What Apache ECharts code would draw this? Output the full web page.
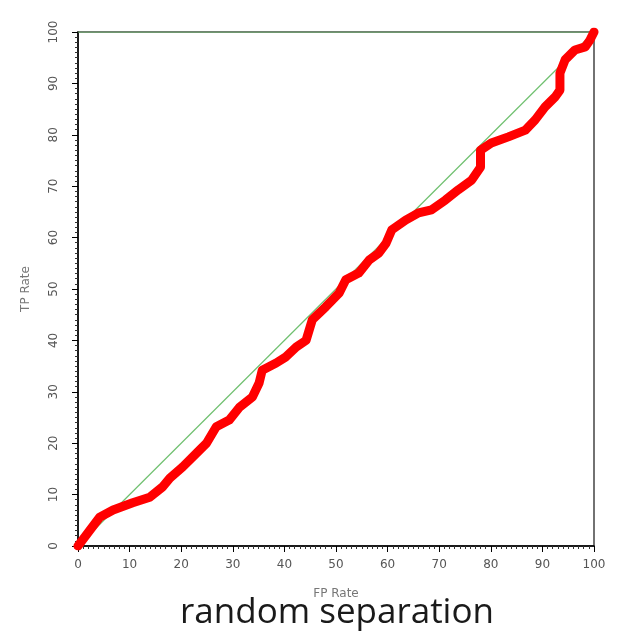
<!DOCTYPE html>
<html>
<head>
<meta charset="utf-8">
<script src="https://cdn.jsdelivr.net/npm/echarts@6/dist/echarts.min.js"></script>
<style>html,body{margin:0;padding:0;background:#fff}#c{width:636px;height:640px}</style>
</head>
<body>
<div id="c"></div>
<script>
var fpRate = [0, 4.2, 6.8, 10.6, 13.9, 16.4, 17.8, 20.3, 23, 24.9, 26.8, 29.3, 31.3, 33.8, 35.1, 35.7, 38.4, 40.3, 42.3, 44.2, 45.4, 48, 50.6, 51.9, 54.4, 56.4, 58.3, 59.7, 60.8, 63.5, 66, 68.5, 71.2, 73.7, 76.3, 78, 78, 80.1, 83.4, 86.7, 88.6, 90.5, 92.5, 93.4, 93.4, 94.4, 96.3, 98.3, 99.2, 100];
var tpRate = [0, 5.6, 7, 8.4, 9.5, 11.5, 13.2, 15.4, 18.1, 20, 23.2, 24.5, 27, 29, 31.7, 34.2, 35.6, 36.8, 38.7, 40, 44, 46.5, 49.2, 51.8, 53.1, 55.6, 57, 58.9, 61.5, 63.4, 64.8, 65.4, 67.3, 69.3, 71.2, 73.7, 77, 78.4, 79.6, 80.9, 82.9, 85.4, 87.4, 88.7, 92, 94.6, 96.5, 97.1, 98.4, 100];
var diagX = [0, 100];
var diagY = [0, 100];
var topX = [0, 100];
var topY = [100, 100];
var titleText = 'random separation';

var chart = echarts.init(document.getElementById('c'));
function pairs(a, b) { return a.map(function (v, i) { return [v, b[i]]; }); }
chart.setOption({
  animation: false,
  graphic: [{
    type: 'text', x: 337, y: 613,
    style: { text: titleText, align: 'center', verticalAlign: 'middle', fontFamily: 'Open Sans', fontSize: 35, fill: '#1a1a1a' }
  }],
  grid: { left: 78, right: 42, top: 32, bottom: 94, show: true, borderColor: '#444', borderWidth: 1.5, backgroundColor: 'transparent' },
  xAxis: {
    type: 'value', min: 0, max: 100, interval: 10,
    name: 'FP Rate', nameLocation: 'middle', nameGap: 42,
    nameTextStyle: { color: '#777', fontSize: 12, fontFamily: 'DejaVu Sans' },
    axisLine: { show: true, lineStyle: { color: '#000', width: 1.5 } },
    axisTick: { show: true, length: 6, lineStyle: { color: '#000' } },
    minorTick: { show: true, splitNumber: 10, length: 3, lineStyle: { color: '#333' } },
    splitLine: { show: false },
    axisLabel: { color: '#555', fontSize: 12, margin: 13, fontFamily: 'DejaVu Sans' }
  },
  yAxis: {
    type: 'value', min: 0, max: 100, interval: 10,
    name: 'TP Rate', nameLocation: 'middle', nameGap: 46, nameRotate: 90,
    nameTextStyle: { color: '#777', fontSize: 12, fontFamily: 'DejaVu Sans' },
    axisLine: { show: true, lineStyle: { color: '#000', width: 1.5 } },
    axisTick: { show: true, length: 6, lineStyle: { color: '#000' } },
    minorTick: { show: true, splitNumber: 10, length: 3, lineStyle: { color: '#333' } },
    splitLine: { show: false },
    axisLabel: { color: '#555', fontSize: 12, margin: 18, rotate: 90, fontFamily: 'DejaVu Sans' }
  },
  series: [
    { type: 'line', data: pairs(topX, topY), symbol: 'none', lineStyle: { color: '#70c070', width: 1 }, z: 1 },
    { type: 'line', data: pairs(diagX, diagY), symbol: 'none', lineStyle: { color: '#70c070', width: 1.2 }, z: 2 },
    { type: 'line', data: pairs(fpRate, tpRate), symbol: 'none', lineStyle: { color: '#ff0000', width: 9, cap: 'round', join: 'round' }, z: 3 }
  ]
});
</script>
</body>
</html>
